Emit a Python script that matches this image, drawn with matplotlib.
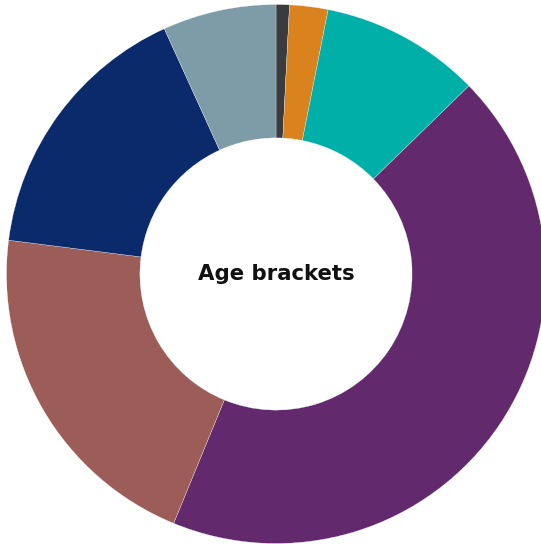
import matplotlib
matplotlib.use("Agg")
import matplotlib.pyplot as plt

labels = ["Under 18", "18-24", "25-34", "35-44", "45-54", "55-64", "65+"]
values = [0.8, 2.3, 9.6, 43.5, 20.8, 16.2, 6.8]
colors = ["#3a3b3f", "#d9821e", "#00b0a8", "#622a6c", "#9c5d58", "#0b2a6b", "#7d9ca8"]
center_label = "Age brackets"

W, H = 541, 544
fig = plt.figure(figsize=(W / 100, H / 100), dpi=100)
ax = fig.add_axes([0, 0, 1, 1])
ax.pie(values, colors=colors, startangle=90, counterclock=False, radius=1.0,
       wedgeprops=dict(width=0.495, edgecolor="white", linewidth=0.2))
scale = 269.5
cx, cy = 276, H - 274
ax.set_xlim(-cx / scale, (W - cx) / scale)
ax.set_ylim(-cy / scale, (H - cy) / scale)
ax.set_aspect("auto")
ax.axis("off")
ax.text(0, 0, center_label, ha="center", va="center", fontsize=15.3,
        fontweight="bold", family=["DejaVu Sans"], color="#111111")
fig.savefig("out.png", dpi=100)
